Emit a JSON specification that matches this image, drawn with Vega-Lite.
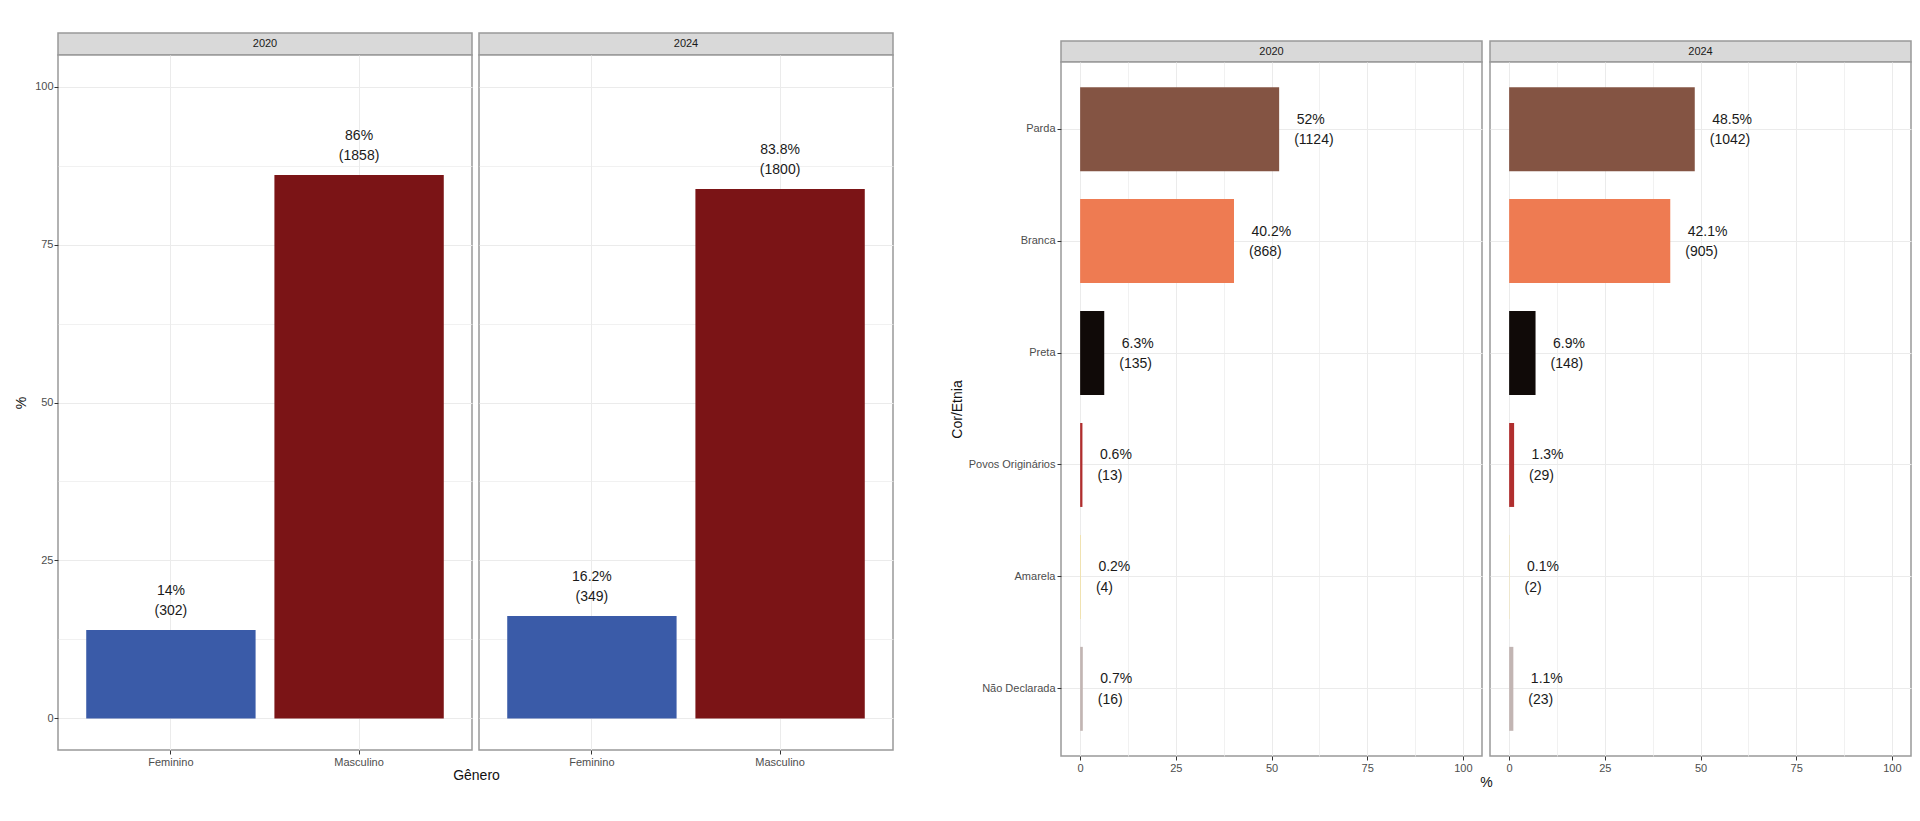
{
  "$schema": "https://vega.github.io/schema/vega-lite/v6.json",
  "background": "white",
  "padding": {"left": 13, "top": 32, "right": 0, "bottom": 0},
  "datasets": {
    "anos": [{"ano": "2020"}, {"ano": "2024"}],
    "genero": [
      {"ano": "2020", "genero": "Feminino", "pct": 14, "n": 302, "pct_txt": "14%", "n_txt": "(302)"},
      {"ano": "2020", "genero": "Masculino", "pct": 86, "n": 1858, "pct_txt": "86%", "n_txt": "(1858)"},
      {"ano": "2024", "genero": "Feminino", "pct": 16.2, "n": 349, "pct_txt": "16.2%", "n_txt": "(349)"},
      {"ano": "2024", "genero": "Masculino", "pct": 83.8, "n": 1800, "pct_txt": "83.8%", "n_txt": "(1800)"}
    ],
    "cor": [
      {"ano": "2020", "cor": "Parda", "pct": 52, "n": 1124, "pct_txt": "52%", "n_txt": "(1124)"},
      {"ano": "2020", "cor": "Branca", "pct": 40.2, "n": 868, "pct_txt": "40.2%", "n_txt": "(868)"},
      {"ano": "2020", "cor": "Preta", "pct": 6.3, "n": 135, "pct_txt": "6.3%", "n_txt": "(135)"},
      {"ano": "2020", "cor": "Povos Originários", "pct": 0.6, "n": 13, "pct_txt": "0.6%", "n_txt": "(13)"},
      {"ano": "2020", "cor": "Amarela", "pct": 0.2, "n": 4, "pct_txt": "0.2%", "n_txt": "(4)"},
      {"ano": "2020", "cor": "Não Declarada", "pct": 0.7, "n": 16, "pct_txt": "0.7%", "n_txt": "(16)"},
      {"ano": "2024", "cor": "Parda", "pct": 48.5, "n": 1042, "pct_txt": "48.5%", "n_txt": "(1042)"},
      {"ano": "2024", "cor": "Branca", "pct": 42.1, "n": 905, "pct_txt": "42.1%", "n_txt": "(905)"},
      {"ano": "2024", "cor": "Preta", "pct": 6.9, "n": 148, "pct_txt": "6.9%", "n_txt": "(148)"},
      {"ano": "2024", "cor": "Povos Originários", "pct": 1.3, "n": 29, "pct_txt": "1.3%", "n_txt": "(29)"},
      {"ano": "2024", "cor": "Amarela", "pct": 0.1, "n": 2, "pct_txt": "0.1%", "n_txt": "(2)"},
      {"ano": "2024", "cor": "Não Declarada", "pct": 1.1, "n": 23, "pct_txt": "1.1%", "n_txt": "(23)"}
    ]
  },
  "config": {
    "font": "Liberation Sans",
    "view": {"stroke": "#999999", "strokeWidth": 1.5, "fill": "white"},
    "axis": {
      "domain": false,
      "gridColor": "#EBEBEB",
      "gridWidth": 1,
      "tickColor": "#333333",
      "tickSize": 4,
      "labelColor": "#4D4D4D",
      "labelFontSize": 11,
      "labelFont": "Liberation Sans",
      "titleFont": "Liberation Sans",
      "titleFontSize": 14,
      "titleFontWeight": "normal",
      "titleColor": "#111111"
    },
    "text": {"font": "Liberation Sans"}
  },
  "spacing": 55,
  "hconcat": [
    {
      "columns": 2,
      "align": "each",
      "bounds": "flush",
      "spacing": {"row": 0, "column": 7},
      "concat": [
        {
          "width": 414, "height": 22,
          "view": {"fill": "#D9D9D9", "stroke": "#999999", "strokeWidth": 1.5},
          "data": {"name": "anos"},
          "transform": [{"filter": "datum.ano === '2020'"}],
          "mark": {"type": "text", "fontSize": 11, "color": "#1A1A1A", "baseline": "middle"},
          "encoding": {"text": {"field": "ano"}}
        },
        {
          "width": 414, "height": 22,
          "view": {"fill": "#D9D9D9", "stroke": "#999999", "strokeWidth": 1.5},
          "data": {"name": "anos"},
          "transform": [{"filter": "datum.ano === '2024'"}],
          "mark": {"type": "text", "fontSize": 11, "color": "#1A1A1A", "baseline": "middle"},
          "encoding": {"text": {"field": "ano"}}
        },
        {
          "width": 414, "height": 695,
          "data": {"name": "genero"},
          "transform": [{"filter": "datum.ano === '2020'"}],
          "encoding": {
            "x": {"field": "genero", "type": "nominal", "sort": ["Feminino", "Masculino"],
              "scale": {"paddingInner": 0.1, "paddingOuter": 0.15},
              "axis": {"grid": true, "bandPosition": 0.5, "labelAngle": 0, "labelPadding": 2, "title": "Gênero", "titleX": 418, "titleAlign": "center", "titlePadding": 1}},
            "y": {"field": "pct", "type": "quantitative",
              "scale": {"domain": [-5, 105], "nice": false},
              "axis": {"values": [0, 12.5, 25, 37.5, 50, 62.5, 75, 87.5, 100],
                "labelExpr": "datum.value % 25 === 0 ? format(datum.value, 'd') : ''",
                "tickOpacity": {"condition": {"test": "datum.value % 25 !== 0", "value": 0}, "value": 1},
                "gridWidth": {"condition": {"test": "datum.value % 25 !== 0", "value": 0.7}, "value": 1},
                "labelPadding": 1, "title": "%", "titlePadding": 6}}
          },
          "layer": [
            {"mark": {"type": "bar"},
             "encoding": {"color": {"field": "genero", "type": "nominal", "legend": null,
               "scale": {"domain": ["Feminino", "Masculino", "Parda", "Branca", "Preta", "Povos Originários", "Amarela", "Não Declarada"],
                         "range": ["#3A5BA8", "#7B1416", "#845443", "#EE7B52", "#100A08", "#B02E2E", "#F2E0A0", "#C2B5B3"]}}}},
            {"mark": {"type": "text", "fontSize": 14, "color": "#1A1A1A", "baseline": "middle", "dy": -39},
             "encoding": {"text": {"field": "pct_txt"}}},
            {"mark": {"type": "text", "fontSize": 14, "color": "#1A1A1A", "baseline": "middle", "dy": -19},
             "encoding": {"text": {"field": "n_txt"}}}
          ]
        },
        {
          "width": 414, "height": 695,
          "data": {"name": "genero"},
          "transform": [{"filter": "datum.ano === '2024'"}],
          "encoding": {
            "x": {"field": "genero", "type": "nominal", "sort": ["Feminino", "Masculino"],
              "scale": {"paddingInner": 0.1, "paddingOuter": 0.15},
              "axis": {"grid": true, "bandPosition": 0.5, "labelAngle": 0, "labelPadding": 2, "title": null}},
            "y": {"field": "pct", "type": "quantitative",
              "scale": {"domain": [-5, 105], "nice": false},
              "axis": {"values": [0, 12.5, 25, 37.5, 50, 62.5, 75, 87.5, 100],
                "labels": false, "ticks": false, "title": null,
                "gridWidth": {"condition": {"test": "datum.value % 25 !== 0", "value": 0.7}, "value": 1}}}
          },
          "layer": [
            {"mark": {"type": "bar"},
             "encoding": {"color": {"field": "genero", "type": "nominal", "legend": null,
               "scale": {"domain": ["Feminino", "Masculino", "Parda", "Branca", "Preta", "Povos Originários", "Amarela", "Não Declarada"],
                         "range": ["#3A5BA8", "#7B1416", "#845443", "#EE7B52", "#100A08", "#B02E2E", "#F2E0A0", "#C2B5B3"]}}}},
            {"mark": {"type": "text", "fontSize": 14, "color": "#1A1A1A", "baseline": "middle", "dy": -39},
             "encoding": {"text": {"field": "pct_txt"}}},
            {"mark": {"type": "text", "fontSize": 14, "color": "#1A1A1A", "baseline": "middle", "dy": -19},
             "encoding": {"text": {"field": "n_txt"}}}
          ]
        }
      ]
    },
    {
      "columns": 2,
      "align": "each",
      "bounds": "flush",
      "spacing": {"row": 0, "column": 8},
      "concat": [
        {
          "width": 421, "height": 8,
          "view": {"fill": null, "stroke": null},
          "data": {"name": "anos"},
          "transform": [{"filter": "false"}],
          "mark": {"type": "text"},
          "encoding": {"text": {"field": "ano"}}
        },
        {
          "width": 421, "height": 8,
          "view": {"fill": null, "stroke": null},
          "data": {"name": "anos"},
          "transform": [{"filter": "false"}],
          "mark": {"type": "text"},
          "encoding": {"text": {"field": "ano"}}
        },
        {
          "width": 421, "height": 21,
          "view": {"fill": "#D9D9D9", "stroke": "#999999", "strokeWidth": 1.5},
          "data": {"name": "anos"},
          "transform": [{"filter": "datum.ano === '2020'"}],
          "mark": {"type": "text", "fontSize": 11, "color": "#1A1A1A", "baseline": "middle"},
          "encoding": {"text": {"field": "ano"}}
        },
        {
          "width": 421, "height": 21,
          "view": {"fill": "#D9D9D9", "stroke": "#999999", "strokeWidth": 1.5},
          "data": {"name": "anos"},
          "transform": [{"filter": "datum.ano === '2024'"}],
          "mark": {"type": "text", "fontSize": 11, "color": "#1A1A1A", "baseline": "middle"},
          "encoding": {"text": {"field": "ano"}}
        },
        {
          "width": 421, "height": 694,
          "data": {"name": "cor"},
          "transform": [{"filter": "datum.ano === '2020'"}],
          "encoding": {
            "y": {"field": "cor", "type": "nominal",
              "sort": ["Parda", "Branca", "Preta", "Povos Originários", "Amarela", "Não Declarada"],
              "scale": {"paddingInner": 0.25, "paddingOuter": 0.225},
              "axis": {"grid": true, "bandPosition": 0.5, "labelPadding": 2, "title": "Cor/Etnia", "titlePadding": 4}},
            "x": {"field": "pct", "type": "quantitative",
              "scale": {"domain": [-5, 105], "nice": false},
              "axis": {"values": [0, 12.5, 25, 37.5, 50, 62.5, 75, 87.5, 100],
                "labelExpr": "datum.value % 25 === 0 ? format(datum.value, 'd') : ''",
                "tickOpacity": {"condition": {"test": "datum.value % 25 !== 0", "value": 0}, "value": 1},
                "gridWidth": {"condition": {"test": "datum.value % 25 !== 0", "value": 0.7}, "value": 1},
                "labelPadding": 2, "title": "%", "titleX": 425, "titleAlign": "center", "titlePadding": 2}}
          },
          "layer": [
            {"mark": {"type": "bar"},
             "encoding": {"color": {"field": "cor", "type": "nominal", "legend": null,
               "scale": {"domain": ["Feminino", "Masculino", "Parda", "Branca", "Preta", "Povos Originários", "Amarela", "Não Declarada"],
                         "range": ["#3A5BA8", "#7B1416", "#845443", "#EE7B52", "#100A08", "#B02E2E", "#F2E0A0", "#C2B5B3"]}}}},
            {"mark": {"type": "text", "fontSize": 14, "color": "#1A1A1A", "baseline": "middle", "align": "left", "dx": 17.5, "dy": -9.5},
             "encoding": {"text": {"field": "pct_txt"}}},
            {"mark": {"type": "text", "fontSize": 14, "color": "#1A1A1A", "baseline": "middle", "align": "left", "dx": 15, "dy": 11},
             "encoding": {"text": {"field": "n_txt"}}}
          ]
        },
        {
          "width": 421, "height": 694,
          "data": {"name": "cor"},
          "transform": [{"filter": "datum.ano === '2024'"}],
          "encoding": {
            "y": {"field": "cor", "type": "nominal",
              "sort": ["Parda", "Branca", "Preta", "Povos Originários", "Amarela", "Não Declarada"],
              "scale": {"paddingInner": 0.25, "paddingOuter": 0.225},
              "axis": {"grid": true, "bandPosition": 0.5, "labels": false, "ticks": false, "title": null}},
            "x": {"field": "pct", "type": "quantitative",
              "scale": {"domain": [-5, 105], "nice": false},
              "axis": {"values": [0, 12.5, 25, 37.5, 50, 62.5, 75, 87.5, 100],
                "labelExpr": "datum.value % 25 === 0 ? format(datum.value, 'd') : ''",
                "tickOpacity": {"condition": {"test": "datum.value % 25 !== 0", "value": 0}, "value": 1},
                "gridWidth": {"condition": {"test": "datum.value % 25 !== 0", "value": 0.7}, "value": 1},
                "labelPadding": 2, "title": null}}
          },
          "layer": [
            {"mark": {"type": "bar"},
             "encoding": {"color": {"field": "cor", "type": "nominal", "legend": null,
               "scale": {"domain": ["Feminino", "Masculino", "Parda", "Branca", "Preta", "Povos Originários", "Amarela", "Não Declarada"],
                         "range": ["#3A5BA8", "#7B1416", "#845443", "#EE7B52", "#100A08", "#B02E2E", "#F2E0A0", "#C2B5B3"]}}}},
            {"mark": {"type": "text", "fontSize": 14, "color": "#1A1A1A", "baseline": "middle", "align": "left", "dx": 17.5, "dy": -9.5},
             "encoding": {"text": {"field": "pct_txt"}}},
            {"mark": {"type": "text", "fontSize": 14, "color": "#1A1A1A", "baseline": "middle", "align": "left", "dx": 15, "dy": 11},
             "encoding": {"text": {"field": "n_txt"}}}
          ]
        }
      ]
    }
  ]
}
